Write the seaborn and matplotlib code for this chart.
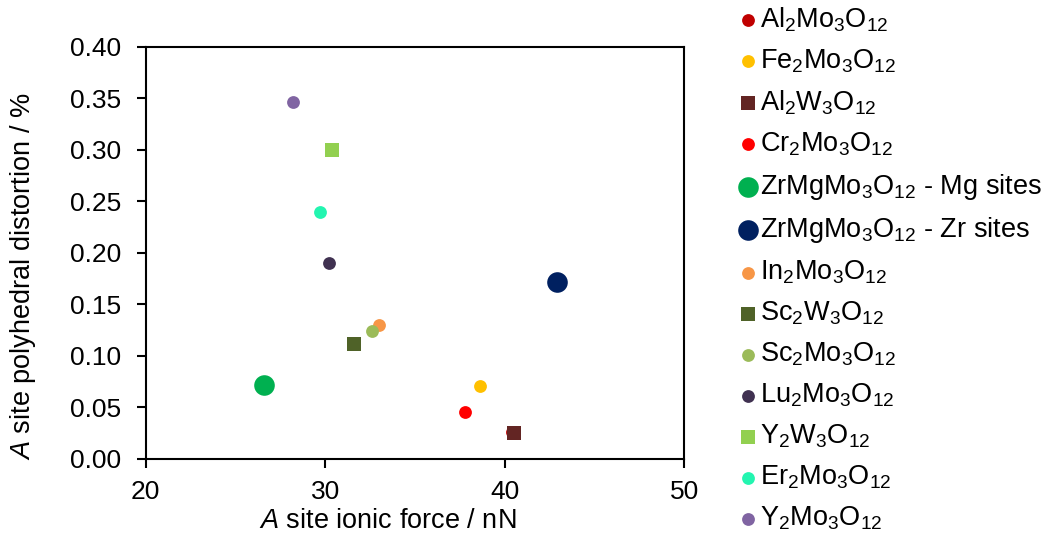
import matplotlib
matplotlib.use("Agg")
import matplotlib.pyplot as plt
import seaborn as sns
from matplotlib.ticker import FormatStrFormatter

# Compounds, in legend order
names = [
    r"$\mathregular{Al_2Mo_3O_{12}}$",
    r"$\mathregular{Fe_2Mo_3O_{12}}$",
    r"$\mathregular{Al_2W_3O_{12}}$",
    r"$\mathregular{Cr_2Mo_3O_{12}}$",
    r"$\mathregular{ZrMgMo_3O_{12}}$ - Mg sites",
    r"$\mathregular{ZrMgMo_3O_{12}}$ - Zr sites",
    r"$\mathregular{In_2Mo_3O_{12}}$",
    r"$\mathregular{Sc_2W_3O_{12}}$",
    r"$\mathregular{Sc_2Mo_3O_{12}}$",
    r"$\mathregular{Lu_2Mo_3O_{12}}$",
    r"$\mathregular{Y_2W_3O_{12}}$",
    r"$\mathregular{Er_2Mo_3O_{12}}$",
    r"$\mathregular{Y_2Mo_3O_{12}}$",
]
ionic_force = [40.4, 38.6, 40.5, 37.8, 26.6, 42.9, 33.0, 31.6, 32.6, 30.2, 30.4, 29.7, 28.2]
distortion = [0.026, 0.071, 0.025, 0.046, 0.072, 0.172, 0.130, 0.112, 0.124, 0.190, 0.300, 0.240, 0.346]

colors = ["#C00000", "#FFC000", "#632523", "#FF0000", "#00B050", "#002060", "#F79646",
          "#4F6228", "#9BBB59", "#403151", "#92D050", "#23F5B0", "#8064A2"]
markers = ["o", "o", "s", "o", "o", "o", "o", "s", "o", "o", "s", "o", "o"]
marker_area = [85, 85, 100, 85, 220, 220, 85, 100, 85, 85, 100, 85, 85]

sns.set_style("white")
plt.rcParams["font.family"] = ["Liberation Sans", "DejaVu Sans"]
plt.rcParams["mathtext.fontset"] = "custom"
plt.rcParams["mathtext.rm"] = "Liberation Sans"
plt.rcParams["mathtext.it"] = "Liberation Sans:italic"
plt.rcParams["text.color"] = "black"
plt.rcParams["axes.labelcolor"] = "black"

fig = plt.figure(figsize=(10.56, 5.38), dpi=100)
ax = fig.add_axes([0.138, 0.147, 0.510, 0.766])

for i in range(len(names)):
    sns.scatterplot(x=[ionic_force[i]], y=[distortion[i]], ax=ax, color=colors[i],
                    marker=markers[i], s=marker_area[i], linewidth=0, label=names[i],
                    legend=False, zorder=3)

ax.set_xlim(20, 50)
ax.set_ylim(0, 0.40)
ax.set_xticks([20, 30, 40, 50])
ax.set_yticks([0.00, 0.05, 0.10, 0.15, 0.20, 0.25, 0.30, 0.35, 0.40])
ax.yaxis.set_major_formatter(FormatStrFormatter("%.2f"))
ax.tick_params(direction="out", length=6.5, width=1.5, labelsize=19, colors="black",
               left=True, bottom=True)
ax.tick_params(axis="y", pad=11)
ax.tick_params(axis="x", pad=9)
for sp in ax.spines.values():
    sp.set_color("black")
    sp.set_linewidth(1.5)

ax.set_xlabel(r"$\mathit{A}$ site ionic force / nN", fontsize=19.5)
ax.set_ylabel(r"$\mathit{A}$ site polyhedral distortion / %", fontsize=19.5)
ax.xaxis.label.set_va("center")
ax.xaxis.set_label_coords(0.45, -0.150)
ax.yaxis.label.set_va("center")
ax.yaxis.set_label_coords(-0.227, 0.444)

handles, labels = ax.get_legend_handles_labels()
fig.legend(handles, labels, loc="upper left", bbox_to_anchor=(0.688, 1.01),
           frameon=False, fontsize=19.5, handletextpad=0.1, labelspacing=0.5,
           handlelength=0.75, borderaxespad=0.0)

fig.savefig("out.png", dpi=100)
